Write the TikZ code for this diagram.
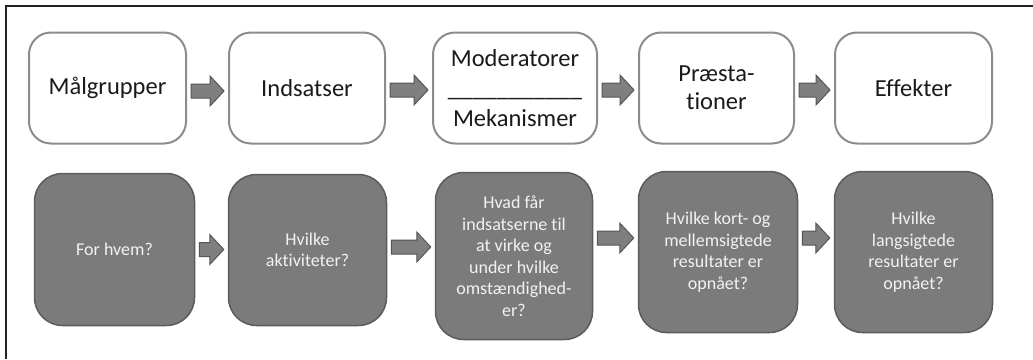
\documentclass[tikz,border=0pt]{standalone}
\usepackage{fontspec}
\setmainfont{Carlito}[Ligatures={NoCommon}]
\usetikzlibrary{calc}
\definecolor{topline}{HTML}{8C8C8C}
\definecolor{toptext}{HTML}{1A1A1A}
\definecolor{botfill}{HTML}{7B7B7B}
\definecolor{botline}{HTML}{5C5C5C}
\definecolor{bottext}{HTML}{F2F2F2}
\definecolor{arrfill}{HTML}{7F7F7F}
\definecolor{arrline}{HTML}{555555}
\definecolor{framecol}{HTML}{222222}
\newcommand\blockarr[3]{%
  \draw[blockarrow] let \p1=($(#1.east)+(4,#3)$), \p2=($(#2.west)+(-4,#3)$) in
    (\x1,\y1-7pt) -- (\x2-14pt,\y1-7pt) -- (\x2-14pt,\y1-15pt) -- (\x2,\y1)
    -- (\x2-14pt,\y1+15pt) -- (\x2-14pt,\y1+7pt) -- (\x1,\y1+7pt) -- cycle;}
\begin{document}
\begin{tikzpicture}[x=1pt,y=-1pt,
  topbox/.style={draw=topline, line width=2pt, fill=white, rounded corners=22pt,
    minimum height=111pt, inner sep=0pt, align=center,
    font=\fontsize{24.5}{28}\selectfont, text=toptext},
  botbox/.style={draw=botline, line width=1.5pt, fill=botfill, rounded corners=28pt,
    inner sep=0pt, align=center, font=\fontsize{18}{21.5}\selectfont, text=bottext},
  blockarrow/.style={draw=arrline, line width=1pt, fill=arrfill, line join=miter},
  frameline/.style={draw=framecol, line width=1.5pt}]
\useasboundingbox (0,0) rectangle (1033,359);
\draw[frameline] (6,359) -- (6,6) -- (1033,6);

% top row
\node[topbox, minimum width=157pt] (m1) at (107.5,88) {Målgrupper};
\node[topbox, minimum width=156pt] (m2) at (307,88) {Indsatser};
\node[topbox, minimum width=164pt, font=\fontsize{24.5}{30}\selectfont] (m3) at (515,88) {Moderatorer\\\_\_\_\_\_\_\_\_\_\_\_\\Mekanismer};
\node[topbox, minimum width=155pt] (m4) at (716.5,88) {Præsta-\\tioner};
\node[topbox, minimum width=157pt] (m5) at (913.5,88) {Effekter};

\blockarr{m1}{m2}{3}
\blockarr{m2}{m3}{2}
\blockarr{m3}{m4}{2}
\blockarr{m4}{m5}{2}

% bottom row
\node[botbox, minimum width=160pt, minimum height=152pt] (b1) at (114.5,249.5) {For hvem?};
\node[botbox, minimum width=158pt, minimum height=151pt] (b2) at (307.5,250) {Hvilke\\aktiviteter?};
\node[botbox, minimum width=157pt, minimum height=167pt] (b3) at (514,256) {Hvad får\\indsatserne til\\at virke og\\under hvilke\\omstændighed-\\er?};
\node[botbox, minimum width=159pt, minimum height=161pt] (b4) at (718,252) {Hvilke kort- og\\mellemsigtede\\resultater er\\opnået?};
\node[botbox, minimum width=158pt, minimum height=161pt] (b5) at (913.5,252) {Hvilke\\langsigtede\\resultater er\\opnået?};

\blockarr{b1}{b2}{0}
\blockarr{b2}{b3}{-3}
\blockarr{b3}{b4}{-18}
\blockarr{b4}{b5}{-14}
\end{tikzpicture}
\end{document}
